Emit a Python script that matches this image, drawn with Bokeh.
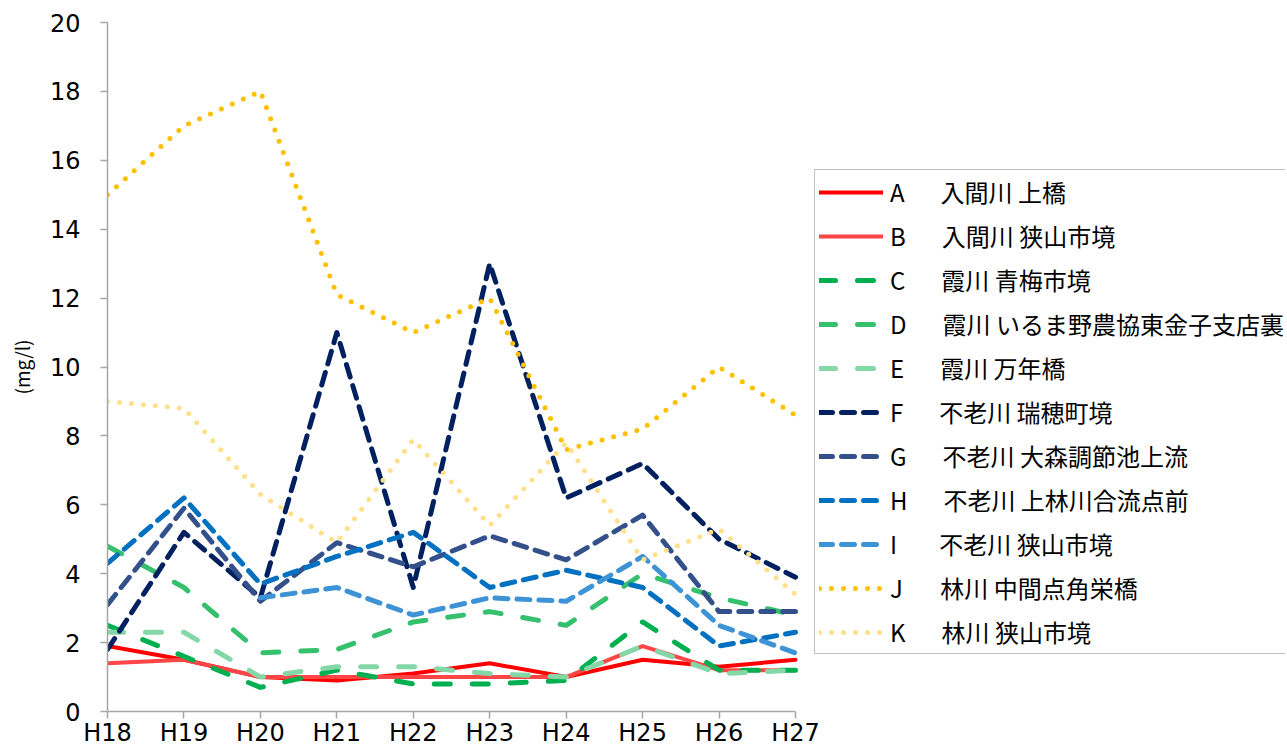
import numpy as np
from bokeh.plotting import figure
from bokeh.models import Legend, FixedTicker
from bokeh.embed import file_html
from bokeh.resources import INLINE

years = ["H18", "H19", "H20", "H21", "H22", "H23", "H24", "H25", "H26", "H27"]

a_vals = [1.9, 1.5, 1.0, 0.9, 1.1, 1.4, 1.0, 1.5, 1.3, 1.5]
b_vals = [1.4, 1.5, 1.0, 1.0, 1.0, 1.0, 1.0, 1.9, 1.2, 1.2]
c_vals = [2.5, 1.6, 0.7, 1.2, 0.8, 0.8, 0.9, 2.6, 1.2, 1.2]
d_vals = [4.8, 3.6, 1.7, 1.8, 2.6, 2.9, 2.5, 4.0, 3.3, 2.8]
e_vals = [2.3, 2.3, 1.0, 1.3, 1.3, 1.1, 1.0, 1.9, 1.1, 1.2]
f_vals = [1.8, 5.2, 3.3, 11.0, 3.6, 13.0, 6.2, 7.2, 5.0, 3.9]
g_vals = [3.1, 5.9, 3.2, 4.9, 4.2, 5.1, 4.4, 5.7, 2.9, 2.9]
h_vals = [4.3, 6.2, 3.7, 4.5, 5.2, 3.6, 4.1, 3.6, 1.9, 2.3]
i_vals = [np.nan, np.nan, 3.3, 3.6, 2.8, 3.3, 3.2, 4.5, 2.5, 1.7]
j_vals = [15.0, 17.0, 18.0, 12.1, 11.0, 12.0, 7.6, 8.2, 10.0, 8.6]
k_vals = [9.0, 8.8, 6.3, 4.9, 7.9, 5.4, 7.8, 4.4, 5.3, 3.4]

SEP = "\u3000\u2002"
labels = [
    "A" + SEP + "入間川 上橋",
    "B" + SEP + "入間川 狭山市境",
    "C" + SEP + "霞川 青梅市境",
    "D" + SEP + "霞川 いるま野農協東金子支店裏",
    "E" + SEP + "霞川 万年橋",
    "F" + SEP + "不老川 瑞穂町境",
    "G" + SEP + "不老川 大森調節池上流",
    "H" + SEP + "不老川 上林川合流点前",
    "I" + SEP + "\u2009\u200a" + "不老川 狭山市境",
    "J" + SEP + "\u200a" + "林川 中間点角栄橋",
    "K" + SEP + "林川 狭山市境",
]
series = [a_vals, b_vals, c_vals, d_vals, e_vals, f_vals, g_vals, h_vals, i_vals, j_vals, k_vals]

styles = [
    dict(color="#ff0000", width=4, dash="solid"),
    dict(color="#ff4545", width=4, dash="solid"),
    dict(color="#00b050", width=5, dash="16 22"),
    dict(color="#35c06e", width=5, dash="16 22"),
    dict(color="#84d8a8", width=5, dash="16 22"),
    dict(color="#002060", width=5, dash="13 9"),
    dict(color="#34508a", width=5, dash="13 9"),
    dict(color="#0070c0", width=5, dash="13 9"),
    dict(color="#3d93d6", width=5, dash="13 9"),
    dict(color="#ffc000", width=5, dash="0 12"),
    dict(color="#ffe08c", width=5, dash="0 12"),
]

FONT = "Noto Sans CJK JP"
TICKFONT = "DejaVu Sans"
x = list(range(len(years)))

# plot frame spans the legend area too; the x axis itself is bounded to H18..H27
FRAME_L, DATA_R, FRAME_R = 107, 795, 1285
x_end = (len(years) - 1) * (FRAME_R - FRAME_L) / (DATA_R - FRAME_L)

p = figure(width=1287, height=749, output_backend="svg", toolbar_location=None,
           x_range=(0, x_end), y_range=(0, 20),
           min_border_left=FRAME_L, min_border_top=22, min_border_bottom=36,
           min_border_right=1287 - FRAME_R)
p.outline_line_color = None
p.xgrid.visible = False
p.ygrid.visible = False

items = []
for lab, vals, st in zip(labels, series, styles):
    r = p.line(x, vals, line_color=st["color"], line_width=st["width"],
               line_dash=st["dash"], line_cap="round", line_join="round")
    items.append((lab, [r]))

p.xaxis.ticker = FixedTicker(ticks=x)
p.xaxis.bounds = (0, len(years) - 1)
p.xaxis.major_label_overrides = {i: y for i, y in enumerate(years)}
p.yaxis.ticker = FixedTicker(ticks=list(range(0, 21, 2)))

for ax in (p.xaxis[0], p.yaxis[0]):
    ax.axis_line_color = "#a6a6a6"
    ax.axis_line_width = 1.5
    ax.major_tick_line_color = "#a6a6a6"
    ax.major_tick_line_width = 1.5
    ax.major_tick_in = 0
    ax.major_tick_out = 7
    ax.minor_tick_line_color = None
    ax.major_label_text_font = TICKFONT
    ax.major_label_text_font_size = "24px"
    ax.major_label_text_color = "#000000"

p.xaxis.major_label_standoff = 0
p.yaxis.major_label_standoff = 20
p.yaxis.axis_label = "(mg/l)"
p.yaxis.axis_label_text_font = FONT
p.yaxis.axis_label_text_font_size = "19px"
p.yaxis.axis_label_text_color = "#000000"
p.yaxis.axis_label_text_font_style = "normal"
p.yaxis.axis_label_standoff = 12

legend = Legend(items=items, location=(814 - FRAME_L, 57))
legend.border_line_color = "#808080"
legend.border_line_width = 1.5
legend.background_fill_color = "white"
legend.background_fill_alpha = 1
legend.padding = 4
legend.spacing = 9
legend.margin = 0
legend.glyph_width = 64
legend.glyph_height = 34
legend.label_height = 34
legend.label_standoff = 7
legend.label_text_font = FONT
legend.label_text_font_size = "24px"
legend.label_text_color = "#000000"
p.add_layout(legend, "center")

open("out.html", "w").write(file_html(p, INLINE))
